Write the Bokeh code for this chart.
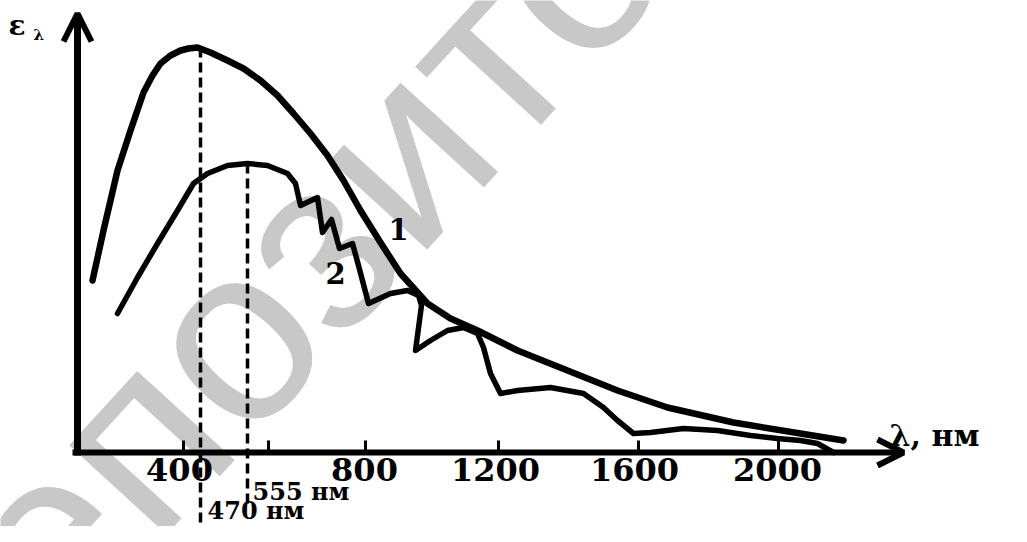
from bokeh.plotting import figure
from bokeh.models import Range1d, Arrow, OpenHead
from bokeh.core.properties import value
from bokeh.embed import file_html
from bokeh.resources import INLINE

# ---- data (drawing units: x = position along the λ axis, eps = height above the λ axis) ----
x1 = [92, 103, 117, 130, 143, 152, 160, 170, 180, 188, 197, 210, 227, 243, 260, 277, 293,
      310, 327, 343, 360, 380, 400, 427, 450, 477, 517, 567, 617, 667, 733, 800, 843]
eps1 = [172, 222, 282, 322, 360, 377, 389, 397, 402, 404, 405, 400, 392, 384, 372, 357, 339,
        319, 297, 272, 242, 210, 179, 149, 134, 122, 102, 82, 62, 45, 30, 19, 12]

x2 = [117, 137, 157, 177, 193, 207, 227, 247, 267, 287, 295, 300, 317, 322, 331, 339, 352,
      358, 368, 390, 407, 418, 421, 415, 430, 447, 463, 477, 483, 490, 500, 517, 550, 583,
      603, 617, 633, 650, 683, 717, 750, 777, 800, 817, 833]
eps2 = [139, 175, 209, 242, 269, 279, 287, 289, 287, 279, 269, 247, 255, 220, 233, 204, 209,
        187, 149, 159, 162, 157, 147, 102, 112, 122, 125, 119, 105, 79, 59, 62, 65, 59,
        45, 32, 19, 20, 24, 22, 17, 14, 12, 9, 0]

tick_x = [183, 268, 365, 498, 638, 778]
label_x = [179, 364, 495, 634, 777]
tick_labels = ["400", "800", "1200", "1600", "2000"]

peak_x = [200, 247]          # 470 nm and 555 nm markers
peak_top = [405, 289]
peak_bottom = [-80, -53]
peak_labels = ["470 нм", "555 нм"]
peak_label_x = [207, 252]
peak_label_y = [-58, -39]

SERIF = value("DejaVu Serif")

p = figure(width=1011, height=526, output_backend="svg", toolbar_location=None,
           x_range=Range1d(0, 1011), y_range=Range1d(-74, 452),
           x_axis_location=None, y_axis_location=None, min_border=0,
           background_fill_color="white", border_fill_color="white")
p.outline_line_color = None
p.xgrid.visible = False
p.ygrid.visible = False

# watermark
p.text(x=[400], y=[302], text=["репозиторий"], angle=0.83, text_font=value("Liberation Sans"),
       text_font_size="250px", text_color="#c8c8c8", text_align="center",
       text_baseline="middle")

# axes as arrows
p.add_layout(Arrow(end=OpenHead(size=26, line_width=6, line_color="black"),
                   x_start=72, y_start=0, x_end=903, y_end=0,
                   line_width=6, line_color="black"))
p.add_layout(Arrow(end=OpenHead(size=28, line_width=6, line_color="black"),
                   x_start=77, y_start=-3, x_end=77, y_end=439,
                   line_width=7, line_color="black"))

# ticks
p.segment(x0=tick_x, y0=[0] * len(tick_x), x1=tick_x, y1=[12] * len(tick_x),
          line_width=3, line_color="black")
p.text(x=label_x, y=[-17] * len(label_x), text=tick_labels, text_font=SERIF,
       text_font_style="bold", text_font_size="32px", text_align="center",
       text_baseline="middle", text_color="black")

# dashed markers
p.segment(x0=peak_x, y0=peak_top, x1=peak_x, y1=peak_bottom, line_width=3.5,
          line_dash="10 5", line_color="black")
p.text(x=peak_label_x, y=peak_label_y, text=peak_labels, text_font=SERIF,
       text_font_style="bold", text_font_size="24px", text_align="left",
       text_baseline="middle", text_color="black")

# curves
p.line(x1, eps1, line_width=6.5, line_color="black", line_join="round", line_cap="round")
p.line(x2, eps2, line_width=5.5, line_color="black", line_join="round", line_cap="round")

# curve numbers
p.text(x=[398, 335], y=[224, 180], text=["1", "2"], text_font=SERIF, text_font_style="bold",
       text_font_size="29px", text_align="center", text_baseline="middle", text_color="black")

# axis titles
p.text(x=[8], y=[427], text=["ε"], text_font=SERIF, text_font_style="bold",
       text_font_size="28px", text_align="left", text_baseline="middle", text_color="black")
p.text(x=[33], y=[418], text=["λ"], text_font=SERIF, text_font_style="bold",
       text_font_size="15px", text_align="left", text_baseline="middle", text_color="black")
p.text(x=[889], y=[17], text=["λ, нм"], text_font=SERIF, text_font_style="bold",
       text_font_size="30px", text_align="left", text_baseline="middle", text_color="black")

open("out.html", "w").write(file_html(p, INLINE))
